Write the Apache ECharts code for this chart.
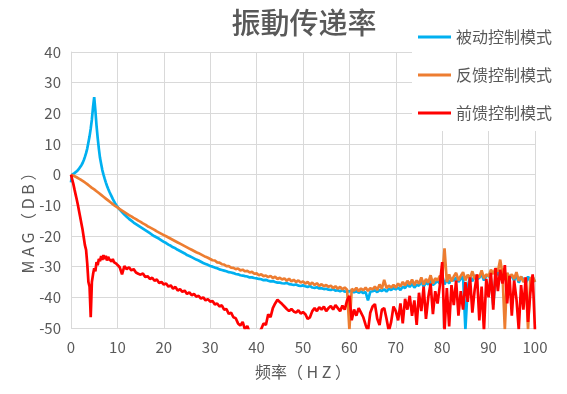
<!DOCTYPE html>
<html>
<head>
<meta charset="utf-8">
<script src="https://cdn.jsdelivr.net/npm/echarts@6/dist/echarts.min.js"></script>
<style>html,body{margin:0;padding:0;background:#fff;}#c{width:567px;height:394px;}</style>
</head>
<body>
<div id="c"></div>
<script>
const freq = [
0,0.25,0.5,0.75,1,1.25,1.5,1.75,2,2.25,
2.5,2.75,3,3.25,3.5,3.75,4,4.25,4.5,4.75,
5,5.25,5.5,5.75,6,6.25,6.5,6.75,7,7.25,
7.5,7.75,8,8.25,8.5,8.75,9,9.25,9.5,9.75,
10,10.5,11,11.5,12,12.5,13,13.5,14,14.5,
15,15.5,16,16.5,17,17.5,18,18.5,19,19.5,
20,20.5,21,21.5,22,22.5,23,23.5,24,24.5,
25,25.5,26,26.5,27,27.5,28,28.5,29,29.5,
30,30.5,31,31.5,32,32.5,33,33.5,34,34.5,
35,35.5,36,36.5,37,37.5,38,38.5,39,39.5,
40,40.5,41,41.5,42,42.5,43,43.5,44,44.5,
45,45.5,46,46.5,47,47.5,48,48.5,49,49.5,
50,50.5,51,51.5,52,52.5,53,53.5,54,54.5,
55,55.5,56,56.5,57,57.5,58,58.5,59,59.5,
60,60.5,61,61.5,62,62.5,63,63.5,64,64.5,
65,65.5,66,66.5,67,67.5,68,68.5,69,69.5,
70,70.5,71,71.5,72,72.5,73,73.5,74,74.5,
75,75.5,76,76.5,77,77.5,78,78.5,79,79.5,
80,80.5,81,81.5,82,82.5,83,83.5,84,84.5,
85,85.5,86,86.5,87,87.5,88,88.5,89,89.5,
90,90.5,91,91.5,92,92.5,93,93.5,94,94.5,
95,95.5,96,96.5,97,97.5,98,98.5,99,99.5,
100];

const passive = [
-2.5,0,0.2,0.5,0.8,1.1,1.5,2,2.5,3.1,
3.8,4.7,5.8,7,8.5,10.5,12.5,15,18,22,
25.3,21,16,12,8.5,5.5,3.5,1.5,0,-1.3,
-2.5,-3.6,-4.6,-5.5,-6.3,-7.1,-7.9,-8.6,-9.3,-9.9,
-10.5,-11.4,-12.2,-13,-13.7,-14.4,-15,-15.6,-16.1,-16.6,
-17.1,-17.6,-18.1,-18.6,-19.1,-19.6,-20.1,-20.5,-20.9,-21.4,
-21.9,-22.3,-22.8,-23.2,-23.7,-24.0,-24.5,-24.9,-25.3,-25.7,
-26.2,-26.5,-26.9,-27.3,-27.7,-28.0,-28.4,-28.8,-29.1,-29.4,
-29.8,-30.0,-30.3,-30.5,-30.9,-31.1,-31.3,-31.5,-31.8,-31.9,
-32.1,-32.4,-32.5,-32.8,-32.9,-33.1,-33.2,-33.5,-33.5,-33.7,
-33.8,-34.0,-34.1,-34.4,-34.3,-34.6,-34.8,-34.7,-35.0,-35.2,
-35.2,-35.4,-35.5,-35.3,-35.7,-35.8,-36.0,-35.8,-36.2,-36.3,
-36.1,-36.4,-36.6,-36.3,-36.8,-36.9,-36.7,-37.1,-37.0,-37.3,
-37.2,-37.5,-37.6,-37.3,-37.8,-37.7,-38.0,-37.6,-38.2,-38.0,
-38.1,-37.8,-38.4,-38.0,-38.5,-38.1,-38.6,-38.3,-41.0,-38.2,
-38.0,-37.7,-38.3,-37.6,-37.9,-37.4,-38.1,-37.2,-37.6,-37.0,
-37.4,-36.8,-37.6,-36.5,-37.0,-35.8,-36.6,-35.5,-36.8,-35.9,
-36.2,-34.8,-36.5,-35.2,-35.8,-34.5,-36.0,-35.3,-34.7,-35.5,
-33.0,-35.8,-34.2,-35.5,-33.8,-34.6,-33.5,-35.0,-34.0,-33.2,
-50.5,-36.5,-33.5,-34.8,-32.8,-34.2,-33.6,-32.5,-34.5,-33.0,
-32.8,-34.0,-42.5,-33.2,-31.8,-33.5,-32.6,-34.2,-32.2,-33.8,
-33.0,-34.5,-32.8,-35.2,-33.4,-34.0,-35.5,-33.2,-34.8,-33.5,
-35.0];

const feedback = [
0,-0.15,-0.3,-0.5,-0.7,-0.9,-1.1,-1.3,-1.55,-1.8,
-2.05,-2.3,-2.55,-2.8,-3.1,-3.4,-3.7,-4.0,-4.3,-4.6,
-4.8,-5.1,-5.4,-5.7,-6.0,-6.3,-6.6,-6.9,-7.2,-7.5,
-7.8,-8.1,-8.4,-8.7,-9.0,-9.3,-9.6,-9.9,-10.2,-10.4,
-10.7,-11.2,-11.7,-12.2,-12.7,-13.2,-13.6,-14.1,-14.5,-15.0,
-15.4,-15.9,-16.3,-16.8,-17.2,-17.6,-18.0,-18.5,-18.9,-19.3,
-19.7,-20.1,-20.5,-20.9,-21.3,-21.7,-22.1,-22.5,-22.9,-23.3,
-23.7,-24.1,-24.5,-24.9,-25.3,-25.6,-26.0,-26.4,-26.8,-27.1,
-27.5,-27.9,-28.0,-28.6,-28.7,-29.2,-29.3,-29.8,-29.8,-30.3,
-30.4,-30.8,-30.6,-31.2,-31.0,-31.5,-31.4,-31.9,-31.7,-32.3,
-32.2,-32.8,-32.5,-33.1,-32.9,-33.4,-33.0,-33.7,-33.3,-34.0,
-33.6,-34.2,-33.8,-34.6,-33.9,-34.8,-34.3,-35.0,-34.5,-35.2,
-34.8,-35.5,-35.0,-35.8,-35.2,-36.0,-35.4,-36.3,-35.7,-36.4,
-36.0,-36.6,-36.2,-37.0,-36.4,-37.2,-36.6,-37.4,-36.8,-37.5,
-50.5,-37.2,-37.8,-36.9,-38.0,-37.1,-37.7,-36.8,-37.9,-37.0,
-37.4,-36.5,-37.6,-35.8,-37.2,-34.3,-37.0,-36.2,-36.8,-35.9,
-36.8,-35.5,-36.4,-35.0,-36.1,-34.6,-35.8,-34.2,-36.0,-34.5,
-35.6,-33.5,-35.8,-34.0,-35.2,-32.8,-35.5,-33.8,-34.5,-33.0,
-33.5,-24.0,-35.0,-32.5,-34.8,-33.2,-32.0,-34.5,-33.0,-31.8,
-34.5,-32.6,-33.8,-31.5,-34.0,-32.8,-33.5,-31.2,-33.8,-32.5,
-33.2,-31.0,-32.4,-30.5,-31.6,-27.7,-32.5,-50.5,-32.0,-33.5,
-32.5,-34.0,-31.8,-34.6,-33.2,-35.0,-33.6,-50.5,-34.0,-33.2,
-35.0];

const feedforward = [
0,-1.5,-3,-4.8,-6.5,-8.2,-10,-12,-14,-16,
-18,-20.5,-23,-24.5,-29,-35,-36.5,-46.5,-35,-32.5,
-30.5,-31.5,-28.5,-29.5,-27.5,-28.2,-26.5,-27.8,-26.2,-27.5,
-26.5,-28.0,-26.8,-27.6,-27.2,-28.3,-27.5,-28.5,-28.0,-29.0,
-28.6,-30.2,-32.5,-29.8,-30.8,-30.2,-31.2,-30.8,-31.9,-32.3,
-32.6,-32.2,-33.4,-33.1,-34.0,-33.6,-34.6,-34.2,-35.3,-35.0,
-35.8,-35.5,-36.5,-36.1,-37.2,-36.6,-37.8,-37.3,-38.2,-37.8,
-38.9,-38.4,-39.3,-38.9,-39.8,-39.5,-40.4,-40.0,-41.0,-40.6,
-41.4,-41.2,-42.3,-42.0,-43.0,-42.6,-44.0,-43.8,-45.4,-45.0,
-46.5,-46.8,-48.5,-49.2,-48.0,-50.5,-49.3,-51.5,-52.0,-53.0,
-52.5,-51.5,-50.3,-48.5,-49.0,-45.5,-46.5,-43.5,-42.0,-40.8,
-41.5,-42.2,-43.0,-43.8,-44.5,-43.8,-44.6,-45.0,-44.2,-45.3,
-44.8,-45.5,-47.0,-46.5,-44.5,-43.5,-44.5,-43.2,-44.0,-43.0,
-44.5,-43.5,-42.8,-44.0,-42.5,-43.5,-44.5,-42.7,-44.0,-41.0,
-39.5,-47.5,-44.0,-46.0,-43.5,-45.0,-46.5,-49.0,-51.0,-45.0,
-43.0,-42.2,-47.0,-49.0,-44.0,-43.5,-47.0,-51.0,-48.0,-43.0,
-44.5,-47.5,-42.0,-48.5,-40.5,-44.0,-39.5,-46.0,-41.0,-49.0,
-38.5,-44.5,-36.5,-47.0,-40.0,-35.5,-45.5,-38.0,-42.0,-36.0,
-28.5,-51.0,-37.0,-49.5,-36.0,-42.5,-34.5,-46.0,-38.0,-44.0,
-35.0,-41.5,-33.5,-45.0,-37.5,-32.5,-47.5,-36.5,-51.0,-34.0,
-40.0,-32.0,-44.0,-30.5,-38.0,-31.0,-35.5,-29.5,-42.0,-33.0,
-46.0,-34.5,-40.5,-50.5,-36.0,-44.0,-33.5,-48.0,-38.5,-32.5,
-51.0];

const seriesNames = ['被动控制模式', '反馈控制模式', '前馈控制模式'];
const seriesColors = ['#00B0F0', '#ED7D31', '#FF0000'];
const seriesValues = [passive, feedback, feedforward];

const chart = echarts.init(document.getElementById('c'), null, {renderer: 'canvas'});
const font = '"Noto Sans CJK SC", "Noto Sans", sans-serif';
chart.setOption({
  animation: false,
  backgroundColor: '#fff',
  title: {
    text: '振動传递率',
    left: 299, top: 3, textAlign: 'center',
    textStyle: {fontSize: 29, fontWeight: 500, color: '#595959', fontFamily: font}
  },
  legend: {
    orient: 'vertical',
    left: 412, top: 20,
    padding: [9, 20, 10, 6],
    backgroundColor: '#fff',
    icon: 'rect',
    itemWidth: 33, itemHeight: 3, itemGap: 22,
    textStyle: {fontSize: 16, color: '#595959', fontFamily: font},
    data: seriesNames
  },
  grid: {left: 71, right: 32, top: 52, bottom: 66, containLabel: false},
  xAxis: {
    type: 'value', min: 0, max: 100, interval: 10,
    name: '频率（ H Z ）', nameLocation: 'middle', nameGap: 36,
    nameTextStyle: {fontSize: 16, color: '#595959', fontFamily: font},
    axisLine: {show: true, lineStyle: {color: '#D9D9D9', width: 1}},
    axisTick: {show: false},
    axisLabel: {fontSize: 15, color: '#595959', margin: 12, fontFamily: font},
    splitLine: {show: true, lineStyle: {color: '#D9D9D9', width: 1}}
  },
  yAxis: {
    type: 'value', min: -50, max: 40, interval: 10,
    axisLine: {show: true, lineStyle: {color: '#D9D9D9', width: 1}},
    axisTick: {show: false},
    axisLabel: {fontSize: 15, color: '#595959', margin: 10, fontFamily: font},
    splitLine: {show: true, lineStyle: {color: '#D9D9D9', width: 1}}
  },
  graphic: [{
    type: 'text', x: 28, y: 219, rotation: Math.PI / 2,
    style: {text: 'M A G （ D B ）', fontSize: 16, fill: '#595959', fontFamily: font,
            align: 'center', verticalAlign: 'middle'}
  }],
  series: seriesNames.map((n, k) => ({
    name: n, type: 'line', symbol: 'none', clip: true,
    lineStyle: {width: 2.7, color: seriesColors[k]},
    itemStyle: {color: seriesColors[k]},
    data: freq.map((f, i) => [f, seriesValues[k][i]])
  }))
});
</script>
</body>
</html>
